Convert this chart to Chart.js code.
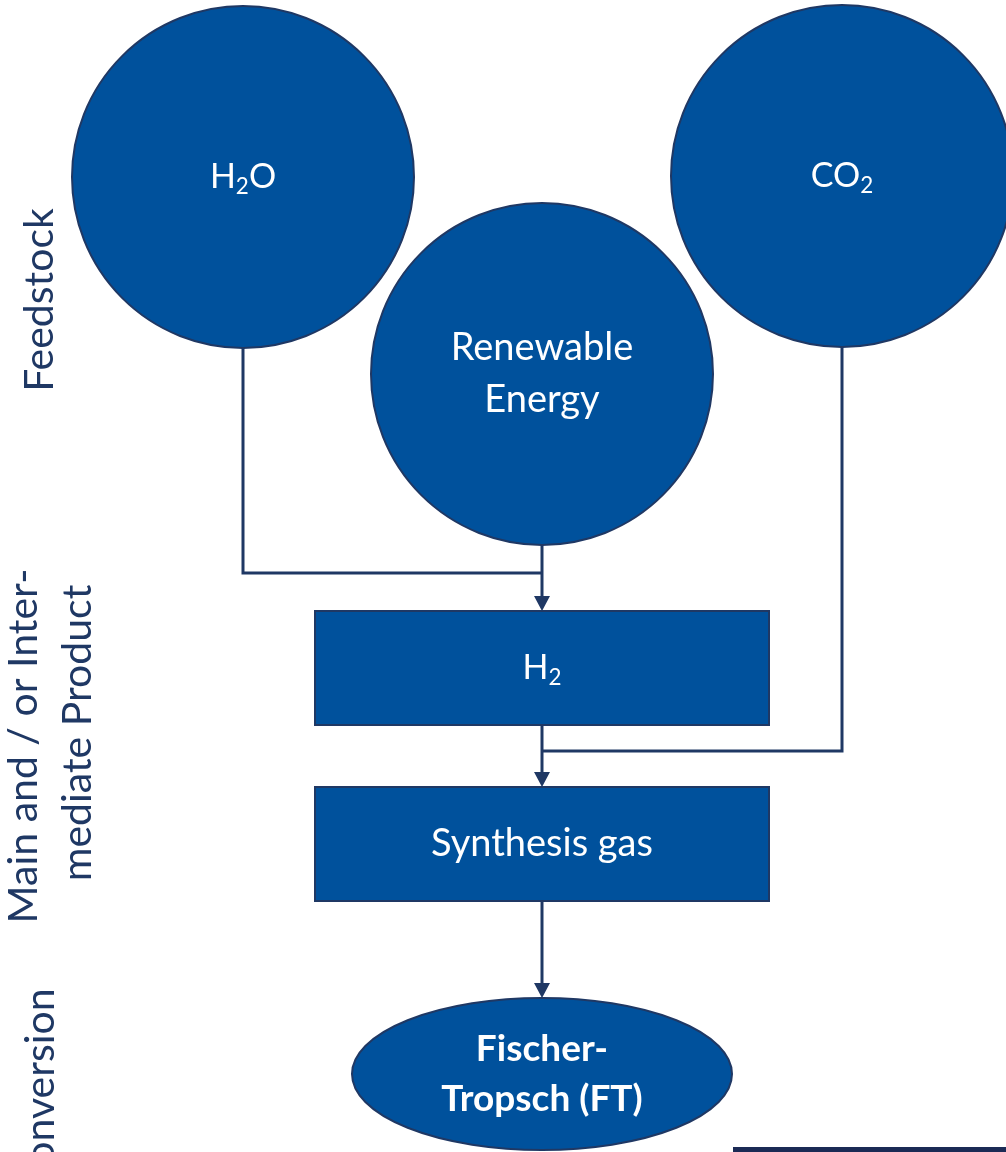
<!DOCTYPE html>
<html>
<head>
<meta charset="utf-8">
<title>FT process chain</title>
<script src="https://cdn.jsdelivr.net/npm/chart.js@4/dist/chart.umd.min.js"></script>
<style>
  html, body { margin: 0; padding: 0; background: #ffffff; }
  #flow { display: block; }
</style>
</head>
<body>
<canvas id="flow" width="1006" height="1152"></canvas>
<script>
// ===== DATA =====
// node texts: segments of [text, 'n'|'s'] (normal / subscript), one array per line
const nodeLabels = [
    [[['H', 'n'], ['2', 's'], ['O', 'n']]],
    [[['CO', 'n'], ['2', 's']]],
    [[['Renewable', 'n']], [['Energy', 'n']]],
    [[['H', 'n'], ['2', 's']]],
    [[['Synthesis gas', 'n']]],
    [[['Fischer-', 'n']], [['Tropsch (FT)', 'n']]]
];
const nodeShapes = ['circle', 'circle', 'circle', 'rect', 'rect', 'ellipse'];
const nodeX = [243, 842, 542, 542, 542, 542];
const nodeY = [177, 176, 374, 668, 844, 1074];
const nodeRX = [171, 171, 171, 227, 227, 190];
const nodeRY = [171, 171, 171, 57, 57, 76];
const nodeFontSize = [34, 34, 38, 34, 38, 37];

// edges: from node, to node, y of the elbow (null = straight), arrow head
const edgeFrom = [0, 2, 1, 3, 4];
const edgeTo = [3, 3, 4, 4, 5];
const edgeBend = [573, null, 751, null, null];
const edgeArrow = [false, true, false, true, true];

// stage labels on the left (rotated)
const stageLabels = ['Feedstock', 'Main and / or Inter-', 'mediate Product', 'Conversion'];
const stageX = [40, 24, 78, 41];
const stageY = [300, 746, 733, 1090];

// ===== STYLE =====
const FILL = '#00519c';
const EDGE = '#1f3864';
const FONT = 'Lato, "Open Sans", sans-serif';

function drawRich(ctx, segs, cx, cy, size, bold) {
    const w = bold ? 'bold ' : '';
    let total = 0;
    segs.forEach(s => {
        ctx.font = w + (s[1] === 's' ? size * 0.66 : size) + 'px ' + FONT;
        total += ctx.measureText(s[0]).width;
    });
    let x = cx - total / 2;
    ctx.textAlign = 'left';
    ctx.textBaseline = 'middle';
    segs.forEach(s => {
        const sub = s[1] === 's';
        ctx.font = w + (sub ? size * 0.66 : size) + 'px ' + FONT;
        ctx.fillText(s[0], x, sub ? cy + size * 0.28 : cy);
        x += ctx.measureText(s[0]).width;
    });
}

const flowPlugin = {
    id: 'flow',
    afterDatasetsDraw(chart) {
        const ctx = chart.ctx;
        const xs = chart.scales.x, ys = chart.scales.y;
        const px = v => xs.getPixelForValue(v);
        const py = v => ys.getPixelForValue(v);
        const dx = v => xs.getPixelForValue(v) - xs.getPixelForValue(0);
        const dy = v => ys.getPixelForValue(v) - ys.getPixelForValue(0);

        ctx.save();
        // connectors
        ctx.strokeStyle = EDGE;
        ctx.fillStyle = EDGE;
        ctx.lineWidth = 3;
        edgeFrom.forEach((f, i) => {
            const t = edgeTo[i];
            const x0 = px(nodeX[f]);
            const y0 = py(nodeY[f] + nodeRY[f]);
            const x1 = px(nodeX[t]);
            const y1 = py(nodeY[t] - nodeRY[t]);
            ctx.beginPath();
            ctx.moveTo(x0, y0);
            if (edgeBend[i] !== null) {
                const yb = py(edgeBend[i]);
                ctx.lineTo(x0, yb);
                ctx.lineTo(x1, yb);
            } else {
                ctx.lineTo(x1, y1 - (edgeArrow[i] ? 12 : 0));
            }
            ctx.stroke();
            if (edgeArrow[i]) {
                ctx.beginPath();
                ctx.moveTo(x1, y1);
                ctx.lineTo(x1 - 8, y1 - 15);
                ctx.lineTo(x1 + 8, y1 - 15);
                ctx.closePath();
                ctx.fill();
            }
        });

        // nodes
        nodeShapes.forEach((shape, i) => {
            const cx = px(nodeX[i]), cy = py(nodeY[i]);
            const rx = Math.abs(dx(nodeRX[i])), ry = Math.abs(dy(nodeRY[i]));
            ctx.beginPath();
            if (shape === 'rect') {
                ctx.rect(cx - rx, cy - ry, rx * 2, ry * 2);
            } else {
                ctx.ellipse(cx, cy, rx, ry, 0, 0, Math.PI * 2);
            }
            ctx.fillStyle = FILL;
            ctx.fill();
            ctx.lineWidth = 2;
            ctx.strokeStyle = EDGE;
            ctx.stroke();

            const lines = nodeLabels[i];
            const bold = shape === 'ellipse';
            const size = nodeFontSize[i];
            const gap = bold ? 50 : 52;
            ctx.fillStyle = '#ffffff';
            lines.forEach((segs, k) => {
                const ly = cy + (k - (lines.length - 1) / 2) * gap;
                drawRich(ctx, segs, cx, ly, size, bold);
            });
        });

        // stage labels
        ctx.fillStyle = EDGE;
        ctx.font = '41px ' + FONT;
        ctx.textAlign = 'center';
        ctx.textBaseline = 'middle';
        stageLabels.forEach((txt, i) => {
            ctx.save();
            ctx.translate(px(stageX[i]), py(stageY[i]));
            ctx.rotate(-Math.PI / 2);
            ctx.fillText(txt, 0, 0);
            ctx.restore();
        });

        // bottom rule
        ctx.fillStyle = '#1b2a55';
        ctx.fillRect(px(733), py(1147), px(1006) - px(733), 6);
        ctx.restore();
    }
};

new Chart(document.getElementById('flow'), {
    type: 'scatter',
    data: {
        datasets: [{
            data: nodeX.map((x, i) => ({ x: x, y: nodeY[i] })),
            pointRadius: 0,
            pointHoverRadius: 0
        }]
    },
    options: {
        responsive: false,
        animation: false,
        layout: { padding: 0 },
        plugins: { legend: { display: false }, tooltip: { enabled: false } },
        scales: {
            x: { type: 'linear', min: 0, max: 1006, display: false },
            y: { type: 'linear', min: 0, max: 1152, reverse: true, display: false }
        }
    },
    plugins: [flowPlugin]
});
</script>
</body>
</html>
